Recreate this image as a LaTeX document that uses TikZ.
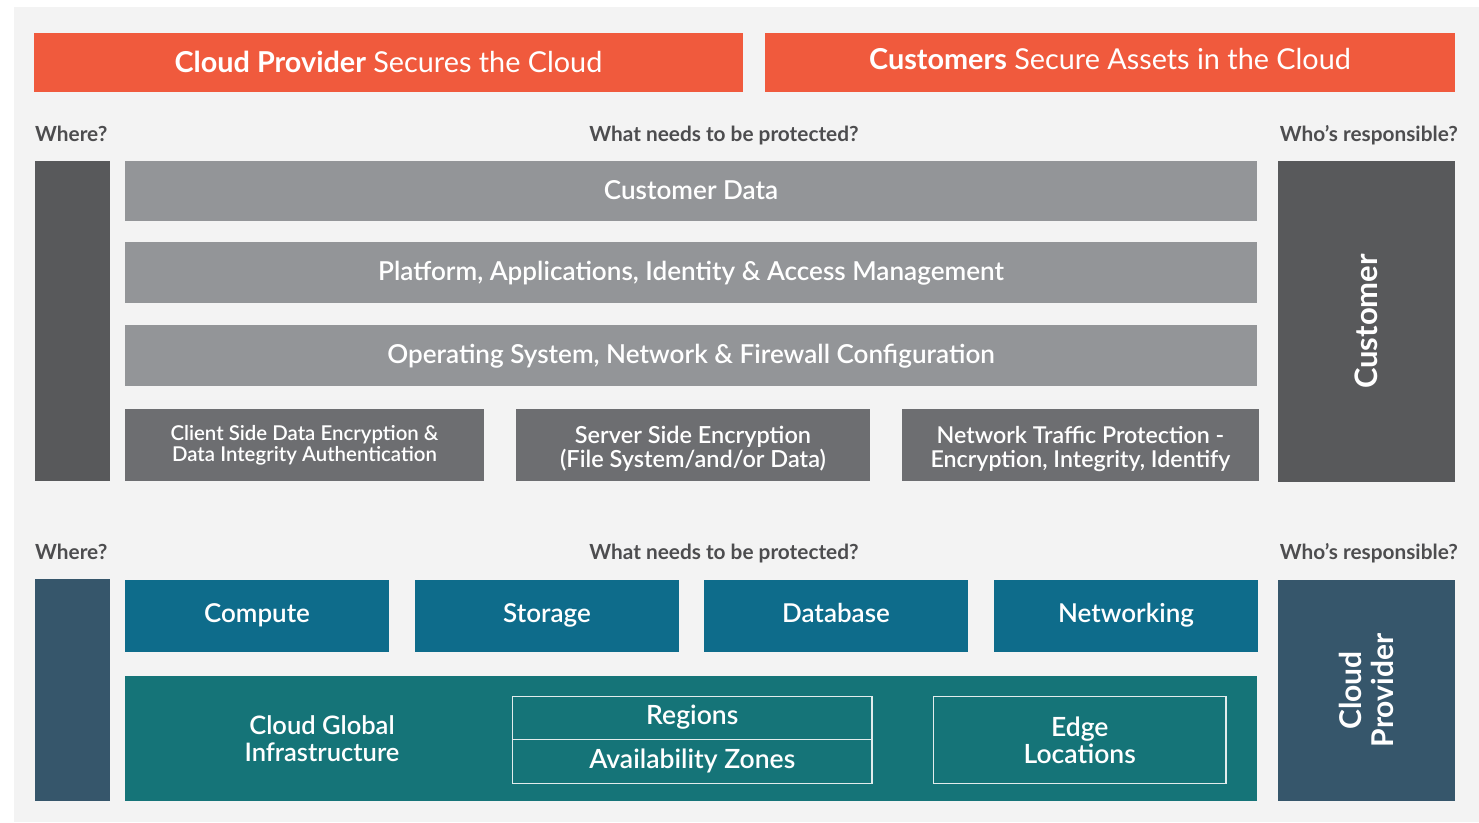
\documentclass[tikz,border=0pt]{standalone}
\usepackage{fontspec}
\setmainfont{Lato}
\newfontfamily\semib{Lato Semibold}
\newcommand\boxstrut{\rule[-0.25em]{0pt}{1.02em}}
\definecolor{bgc}{HTML}{F3F3F3}
\definecolor{orng}{HTML}{F05A3D}
\definecolor{dkgray}{HTML}{58595B}
\definecolor{midgray}{HTML}{939598}
\definecolor{boxgray}{HTML}{6D6E71}
\definecolor{labelc}{HTML}{4D4D4F}
\definecolor{bluebox}{HTML}{0E6C8B}
\definecolor{tealbox}{HTML}{157478}
\definecolor{slate}{HTML}{36566B}
\definecolor{thinline}{HTML}{E2ECEC}
\tikzset{
  blk/.style={inner sep=0pt, outer sep=0pt, text=white, align=center, anchor=north west},
  sl/.style={execute at begin node=\boxstrut},
  txt/.style={inner sep=0pt, text=white, align=center},
  lbl/.style={inner sep=0pt, text=labelc, font=\fontsize{20.8}{24}\selectfont\bfseries},
  big/.style={font=\fontsize{26.1}{28}\selectfont\semib},
  svc/.style={font=\fontsize{26}{28}\selectfont\semib},
  outl/.style={draw=thinline, line width=1.5pt, inner sep=0pt, text=white, align=center, anchor=north west, font=\fontsize{26.5}{27}\selectfont\semib}
}
\begin{document}
\begin{tikzpicture}[x=1pt,y=-1pt]
\useasboundingbox (0,0) rectangle (1479,822);
\fill[bgc] (14,7) rectangle (1479,822);
% banners
\node[blk, sl, fill=orng, minimum width=709, minimum height=59, font=\fontsize{28.8}{32}\selectfont] (ban1) at (34,33) {\raisebox{-2.8pt}{\textbf{Cloud Provider} Secures the Cloud}};
\node[blk, sl, fill=orng, minimum width=690, minimum height=59, font=\fontsize{28.8}{32}\selectfont] (ban2) at (765,33) {\textbf{Customers} Secure Assets in the Cloud};
% labels top
\node[lbl, anchor=base west] (where1) at (35,141.7) {Where?};
\node[lbl, anchor=base] (what1) at (724,141.7) {What needs to be protected?};
\node[lbl, anchor=base east] (who1) at (1458,141.7) {Who’s responsible?};
% left bar top
\node[blk, fill=dkgray, minimum width=75, minimum height=320] (lbar1) at (35,161) {};
% grey rows
\node[blk, sl, big, fill=midgray, minimum width=1132, minimum height=60] (cdata) at (125,161) {\raisebox{-1.5pt}{Customer Data}};
\node[blk, sl, big, fill=midgray, minimum width=1132, minimum height=61] (plat) at (125,242) {\raisebox{-1.5pt}{Platform, Applications, Identity \& Access Management}};
\node[blk, sl, big, fill=midgray, minimum width=1132, minimum height=61] (os) at (125,325) {\raisebox{-1.5pt}{Operating System, Network \& Firewall Configuration}};
\node[blk, fill=boxgray, minimum width=359, minimum height=72] (client) at (125,409) {};
\node[txt, font=\fontsize{20.4}{21}\selectfont\semib] (clienttxt) at (client.center) {Client Side Data Encryption \&\\Data Integrity Authentication};
\node[blk, fill=boxgray, minimum width=354, minimum height=72] (server) at (516,409) {};
\node[txt, font=\fontsize{23.5}{24.5}\selectfont\semib] (servertxt) at ([yshift=-4pt]server.center) {Server Side Encryption\\(File System/and/or Data)};
\node[blk, fill=boxgray, minimum width=357, minimum height=72] (netp) at (902,409) {};
\node[txt, font=\fontsize{23.2}{24.5}\selectfont\semib] (netptxt) at ([yshift=-4pt]netp.center) {Network Traffic Protection -\\Encryption, Integrity, Identify};
% customer bar
\node[blk, fill=dkgray, minimum width=177, minimum height=321] (custbar) at (1278,161) {};
\node[text=white, rotate=90, font=\fontsize{31}{32}\selectfont\bfseries] (custtxt) at (custbar.center) {Customer};
% labels bottom
\node[lbl, anchor=base west] (where2) at (35,559.5) {Where?};
\node[lbl, anchor=base] (what2) at (724,559.5) {What needs to be protected?};
\node[lbl, anchor=base east] (who2) at (1458,559.5) {Who’s responsible?};
% left bar bottom
\node[blk, fill=slate, minimum width=75, minimum height=222] (lbar2) at (35,579) {};
% services
\node[blk, sl, svc, fill=bluebox, minimum width=264, minimum height=72] (compute) at (125,580) {Compute};
\node[blk, sl, svc, fill=bluebox, minimum width=264, minimum height=72] (storage) at (415,580) {Storage};
\node[blk, sl, svc, fill=bluebox, minimum width=264, minimum height=72] (database) at (704,580) {Database};
\node[blk, sl, svc, fill=bluebox, minimum width=264, minimum height=72] (network) at (994,580) {Networking};
% infrastructure
\node[blk, fill=tealbox, minimum width=1132, minimum height=125] (infra) at (125,676) {};
\node[txt, font=\fontsize{25.5}{27}\selectfont\semib] (cgi) at (322,739) {Cloud Global\\Infrastructure};
\node[outl, sl, minimum width=359.5, minimum height=43] (regions) at (511.75,695.75) {Regions};
\node[outl, sl, minimum width=359.5, minimum height=44] (azones) at (511.75,738.75) {Availability Zones};
\node[outl, minimum width=292.5, minimum height=87] (edge) at (932.75,695.75) {Edge\\Locations};
% cloud provider bar
\node[blk, fill=slate, minimum width=177, minimum height=221] (cpbar) at (1278,580) {};
\node[text=white, rotate=90, align=center, font=\fontsize{30}{32}\selectfont\bfseries] (cptxt) at (cpbar.center) {Cloud\\Provider};
\end{tikzpicture}
\end{document}
